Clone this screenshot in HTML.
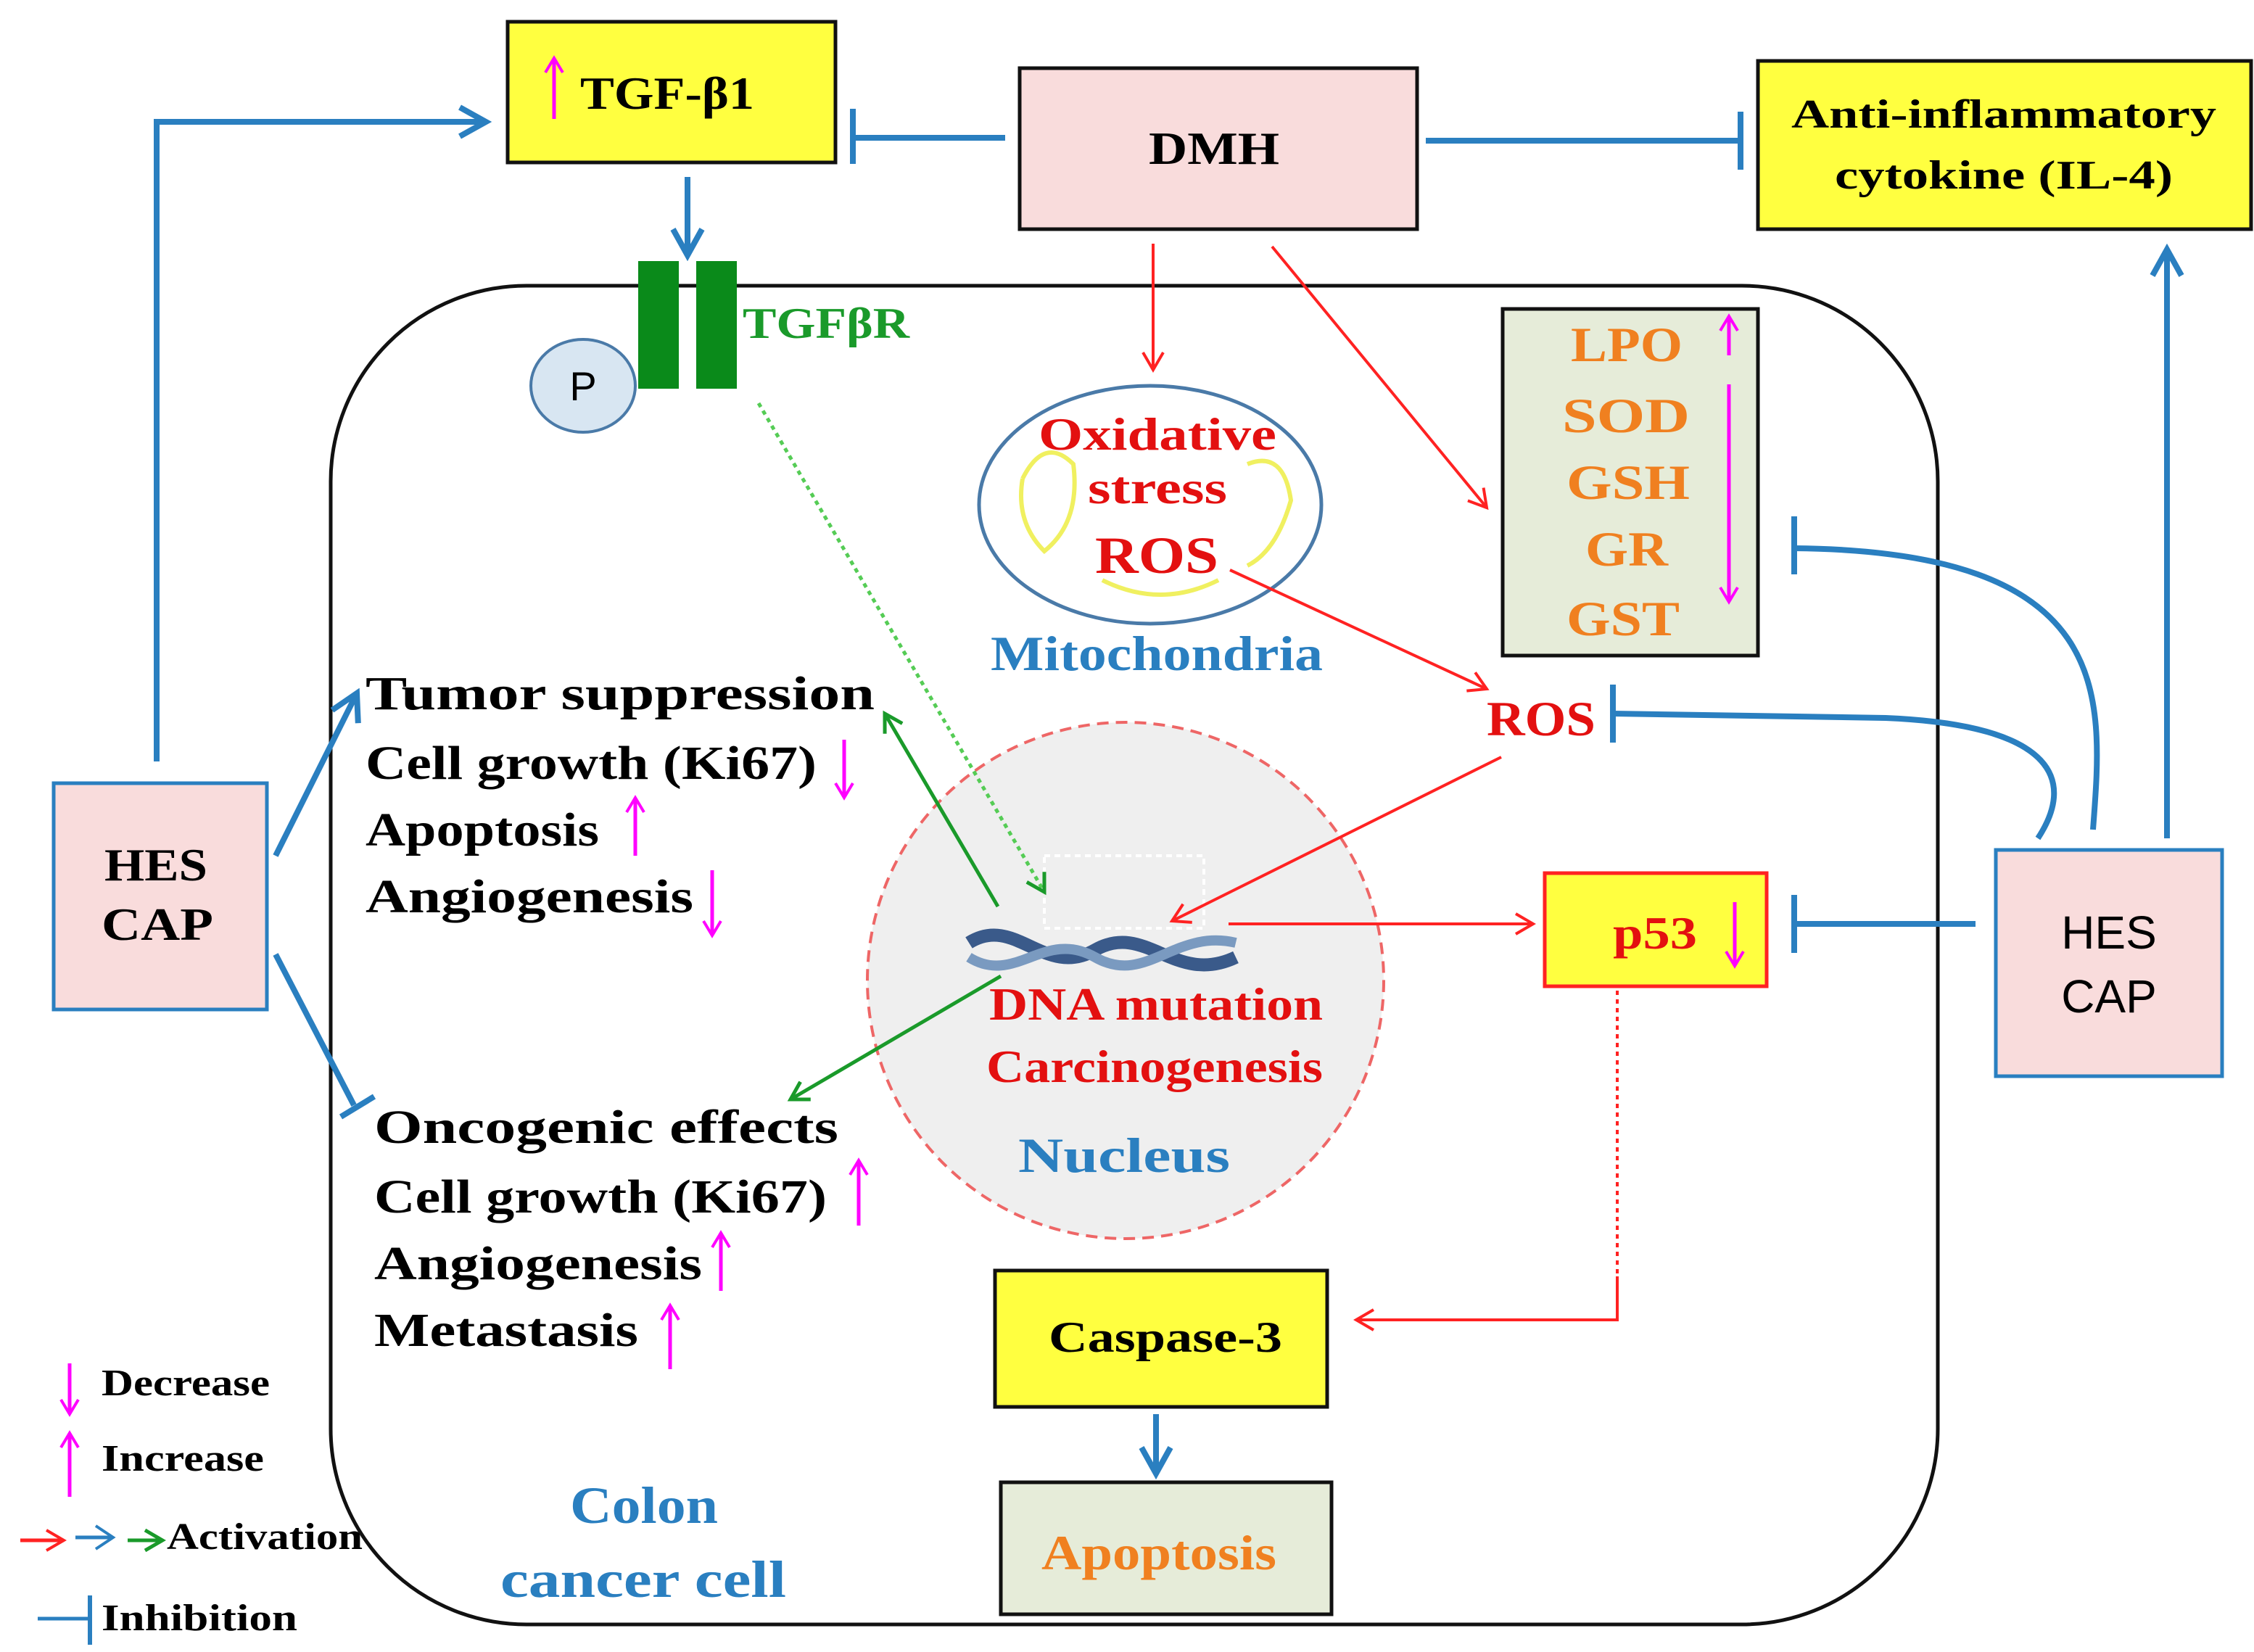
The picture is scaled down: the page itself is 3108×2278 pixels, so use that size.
<!DOCTYPE html>
<html><head><meta charset="utf-8"><style>
html,body{margin:0;padding:0;background:#fff}
svg{display:block}
text{font-family:"Liberation Serif",serif;font-weight:bold}
</style></head><body>
<svg width="3108" height="2278" viewBox="0 0 1554 1139" xmlns="http://www.w3.org/2000/svg">
<defs>
<marker id="abb" markerWidth="24" markerHeight="24" refX="20" refY="12" orient="auto" markerUnits="userSpaceOnUse"><path d="M2,2 L20,12 L2,22" fill="none" stroke="#2a7fc0" stroke-width="4"/></marker>
<marker id="ar" markerWidth="16" markerHeight="16" refX="13" refY="8" orient="auto" markerUnits="userSpaceOnUse"><path d="M1,1 L13,8 L1,15" fill="none" stroke="#f22" stroke-width="2"/></marker>
<marker id="ag" markerWidth="16" markerHeight="16" refX="13" refY="8" orient="auto" markerUnits="userSpaceOnUse"><path d="M1,1 L13,8 L1,15" fill="none" stroke="#1a9a2a" stroke-width="2.5"/></marker>
<marker id="am" markerWidth="14" markerHeight="14" refX="11" refY="7" orient="auto" markerUnits="userSpaceOnUse"><path d="M1,1 L11,7 L1,13" fill="none" stroke="#f0f" stroke-width="2"/></marker>
</defs>
<rect x="228" y="197" width="1108" height="923" rx="135" fill="none" stroke="#111" stroke-width="2.5"/>
<rect x="350" y="15" width="226" height="97" fill="#ffff40" stroke="#111" stroke-width="2.5"/>
<text x="400" y="75" font-size="32" textLength="120" lengthAdjust="spacingAndGlyphs">TGF-β1</text>
<line x1="382" y1="82" x2="382" y2="40" stroke="#f0f" stroke-width="2.5" marker-end="url(#am)"/>
<rect x="703" y="47" width="274" height="111" fill="#f9dcdc" stroke="#111" stroke-width="2.5"/>
<text x="792" y="113" font-size="32" textLength="90" lengthAdjust="spacingAndGlyphs">DMH</text>
<rect x="1212" y="42" width="340" height="116" fill="#ffff40" stroke="#111" stroke-width="2.5"/>
<text x="1235" y="88" font-size="28" textLength="293" lengthAdjust="spacingAndGlyphs">Anti-inflammatory</text>
<text x="1265" y="130" font-size="28" textLength="233" lengthAdjust="spacingAndGlyphs">cytokine (IL-4)</text>
<rect x="440" y="180" width="28" height="88" fill="#0a8a1a"/>
<rect x="480" y="180" width="28" height="88" fill="#0a8a1a"/>
<text x="512" y="233" font-size="30" fill="#1a9a2a" textLength="115" lengthAdjust="spacingAndGlyphs">TGFβR</text>
<ellipse cx="402" cy="266" rx="36" ry="32" fill="#d8e6f2" stroke="#4a7aa8" stroke-width="2"/>
<text x="402" y="276" font-size="28" text-anchor="middle" style="font-family:'Liberation Sans',sans-serif;font-weight:normal">P</text>
<ellipse cx="793" cy="348" rx="118" ry="82" fill="#fff" stroke="#4a7aa8" stroke-width="2.5"/>
<path d="M705,330 Q720,300 740,320 Q745,360 720,380 Q700,360 705,330 M860,320 Q885,310 890,345 Q880,380 860,390 M760,400 Q800,420 840,400" fill="none" stroke="#f0f060" stroke-width="3"/>
<g font-size="32" fill="#e31010">
<text x="716" y="310" textLength="164" lengthAdjust="spacingAndGlyphs">Oxidative</text>
<text x="750" y="347" textLength="96" lengthAdjust="spacingAndGlyphs">stress</text>
<text x="755" y="395" font-size="36" textLength="85" lengthAdjust="spacingAndGlyphs">ROS</text>
</g>
<text x="683" y="462" font-size="34" fill="#2a7fc0" textLength="229" lengthAdjust="spacingAndGlyphs">Mitochondria</text>
<rect x="1036" y="213" width="176" height="239" fill="#e6ecd9" stroke="#111" stroke-width="2.5"/>
<g font-size="34" fill="#f08020">
<text x="1083" y="249" textLength="77" lengthAdjust="spacingAndGlyphs">LPO</text>
<text x="1077" y="298" textLength="88" lengthAdjust="spacingAndGlyphs">SOD</text>
<text x="1080" y="344" textLength="85" lengthAdjust="spacingAndGlyphs">GSH</text>
<text x="1093" y="390" textLength="57" lengthAdjust="spacingAndGlyphs">GR</text>
<text x="1080" y="438" textLength="78" lengthAdjust="spacingAndGlyphs">GST</text></g>
<line x1="1192" y1="245" x2="1192" y2="218" stroke="#f0f" stroke-width="2.5" marker-end="url(#am)"/>
<line x1="1192" y1="265" x2="1192" y2="415" stroke="#f0f" stroke-width="2.5" marker-end="url(#am)"/>
<text x="1025" y="507" font-size="34" fill="#e31010" textLength="75" lengthAdjust="spacingAndGlyphs">ROS</text>
<circle cx="776" cy="676" r="178" fill="#efefef" stroke="#e66" stroke-width="2" stroke-dasharray="8,5"/>
<rect x="720" y="590" width="110" height="50" fill="none" stroke="#fff" stroke-width="2" stroke-dasharray="4,3"/>
<path d="M668,650 C700,630 720,675 755,655 C790,635 810,680 852,660" fill="none" stroke="#3a5a8a" stroke-width="9"/>
<path d="M668,660 C700,680 720,640 755,660 C790,680 810,640 852,650" fill="none" stroke="#7a9ac0" stroke-width="7"/>
<text x="682" y="703" font-size="32" fill="#e31010" textLength="230" lengthAdjust="spacingAndGlyphs">DNA mutation</text>
<text x="680" y="746" font-size="32" fill="#e31010" textLength="232" lengthAdjust="spacingAndGlyphs">Carcinogenesis</text>
<text x="702" y="808" font-size="34" fill="#2a7fc0" textLength="146" lengthAdjust="spacingAndGlyphs">Nucleus</text>
<rect x="1065" y="602" width="153" height="78" fill="#ffff40" stroke="#f22" stroke-width="2.5"/>
<text x="1112" y="654" font-size="32" fill="#e31010" textLength="58" lengthAdjust="spacingAndGlyphs">p53</text>
<line x1="1196" y1="622" x2="1196" y2="666" stroke="#f0f" stroke-width="2.5" marker-end="url(#am)"/>
<rect x="37" y="540" width="147" height="156" fill="#f9dcdc" stroke="#2a7fc0" stroke-width="2.5"/>
<text x="72" y="607" font-size="32" textLength="71" lengthAdjust="spacingAndGlyphs">HES</text><text x="70" y="648" font-size="32" textLength="77" lengthAdjust="spacingAndGlyphs">CAP</text>
<rect x="1376" y="586" width="156" height="156" fill="#f9dcdc" stroke="#2a7fc0" stroke-width="2.5"/>
<text x="1454" y="654" font-size="32" text-anchor="middle" style="font-family:'Liberation Sans',sans-serif;font-weight:normal">HES</text><text x="1454" y="698" font-size="32" text-anchor="middle" style="font-family:'Liberation Sans',sans-serif;font-weight:normal">CAP</text>
<g font-size="33">
<text x="252" y="489" textLength="351" lengthAdjust="spacingAndGlyphs">Tumor  suppression</text>
<text x="252" y="537" textLength="311" lengthAdjust="spacingAndGlyphs">Cell growth (Ki67)</text>
<text x="252" y="583" textLength="161" lengthAdjust="spacingAndGlyphs">Apoptosis</text>
<text x="252" y="629" textLength="226" lengthAdjust="spacingAndGlyphs">Angiogenesis</text>
<text x="258" y="788" textLength="320" lengthAdjust="spacingAndGlyphs">Oncogenic effects</text>
<text x="258" y="836" textLength="312" lengthAdjust="spacingAndGlyphs">Cell growth (Ki67)</text>
<text x="258" y="882" textLength="226" lengthAdjust="spacingAndGlyphs">Angiogenesis</text>
<text x="258" y="928" textLength="182" lengthAdjust="spacingAndGlyphs">Metastasis</text>
</g>
<g stroke="#f0f" stroke-width="2.5">
<line x1="582" y1="510" x2="582" y2="550" marker-end="url(#am)"/>
<line x1="438" y1="590" x2="438" y2="550" marker-end="url(#am)"/>
<line x1="491" y1="600" x2="491" y2="645" marker-end="url(#am)"/>
<line x1="592" y1="845" x2="592" y2="800" marker-end="url(#am)"/>
<line x1="497" y1="890" x2="497" y2="850" marker-end="url(#am)"/>
<line x1="462" y1="944" x2="462" y2="900" marker-end="url(#am)"/>
<line x1="48" y1="940" x2="48" y2="975" marker-end="url(#am)"/>
<line x1="48" y1="1032" x2="48" y2="988" marker-end="url(#am)"/>
</g>
<rect x="686" y="876" width="229" height="94" fill="#ffff40" stroke="#111" stroke-width="2.5"/>
<text x="723" y="932" font-size="30" textLength="161" lengthAdjust="spacingAndGlyphs">Caspase-3</text>
<rect x="690" y="1022" width="228" height="91" fill="#e6ecd9" stroke="#111" stroke-width="2.5"/>
<text x="718" y="1082" font-size="34" fill="#f08020" textLength="162" lengthAdjust="spacingAndGlyphs">Apoptosis</text>
<text x="393" y="1050" font-size="36" fill="#2a7fc0" textLength="102" lengthAdjust="spacingAndGlyphs">Colon</text>
<text x="345" y="1101" font-size="36" fill="#2a7fc0" textLength="197" lengthAdjust="spacingAndGlyphs">cancer cell</text>
<g font-size="26">
<text x="70" y="962" textLength="116" lengthAdjust="spacingAndGlyphs">Decrease</text>
<text x="70" y="1014" textLength="112" lengthAdjust="spacingAndGlyphs">Increase</text>
<text x="115" y="1068" textLength="135" lengthAdjust="spacingAndGlyphs">Activation</text>
<text x="70" y="1124" textLength="135" lengthAdjust="spacingAndGlyphs">Inhibition</text></g>
<line x1="14" y1="1062" x2="44" y2="1062" stroke="#f22" stroke-width="2.5" marker-end="url(#ar)"/>
<line x1="52" y1="1060" x2="78" y2="1060" stroke="#2a7fc0" stroke-width="2.5"/>
<path d="M66,1052 L78,1060 L66,1068" fill="none" stroke="#2a7fc0" stroke-width="2"/>
<line x1="88" y1="1062" x2="112" y2="1062" stroke="#1a9a2a" stroke-width="2.5" marker-end="url(#ag)"/>
<line x1="26" y1="1116" x2="62" y2="1116" stroke="#2a7fc0" stroke-width="2.5"/>
<line x1="62" y1="1100" x2="62" y2="1134" stroke="#2a7fc0" stroke-width="3"/>
<g stroke="#2a7fc0" stroke-width="4" fill="none">
<polyline points="108,525 108,84 335,84" marker-end="url(#abb)"/>
<line x1="190" y1="590" x2="246" y2="478" marker-end="url(#abb)"/>
<line x1="190" y1="658" x2="244" y2="762"/>
<line x1="235" y1="770" x2="258" y2="756"/>
<line x1="693" y1="95" x2="588" y2="95"/><line x1="588" y1="75" x2="588" y2="113"/>
<line x1="983" y1="97" x2="1200" y2="97"/><line x1="1200" y1="77" x2="1200" y2="117"/>
<line x1="474" y1="122" x2="474" y2="176" marker-end="url(#abb)"/>
<line x1="1362" y1="637" x2="1237" y2="637"/><line x1="1237" y1="617" x2="1237" y2="657"/>
<path d="M1405,578 C1430,540 1420,500 1300,495 L1112,492"/><line x1="1112" y1="472" x2="1112" y2="512"/>
<path d="M1443,572 C1450,480 1460,380 1237,378"/><line x1="1237" y1="356" x2="1237" y2="396"/>
<line x1="1494" y1="578" x2="1494" y2="172" marker-end="url(#abb)"/>
<line x1="797" y1="975" x2="797" y2="1016" marker-end="url(#abb)"/>
</g>
<g stroke="#f22" stroke-width="2" fill="none">
<line x1="795" y1="168" x2="795" y2="255" marker-end="url(#ar)"/>
<line x1="877" y1="170" x2="1025" y2="350" marker-end="url(#ar)"/>
<line x1="848" y1="393" x2="1025" y2="475" marker-end="url(#ar)"/>
<line x1="1035" y1="522" x2="808" y2="635" marker-end="url(#ar)"/>
<line x1="847" y1="637" x2="1057" y2="637" marker-end="url(#ar)"/>
<line x1="1115" y1="683" x2="1115" y2="880" stroke-dasharray="3,3"/>
<polyline points="1115,880 1115,910 935,910" marker-end="url(#ar)"/>
</g>
<g stroke="#1a9a2a" stroke-width="2.5" fill="none">
<line x1="523" y1="278" x2="720" y2="615" stroke="#5c5" stroke-dasharray="3,3" marker-end="url(#ag)"/>
<line x1="688" y1="625" x2="610" y2="492" marker-end="url(#ag)"/>
<line x1="690" y1="673" x2="545" y2="758" marker-end="url(#ag)"/>
</g>
</svg>
</body></html>
